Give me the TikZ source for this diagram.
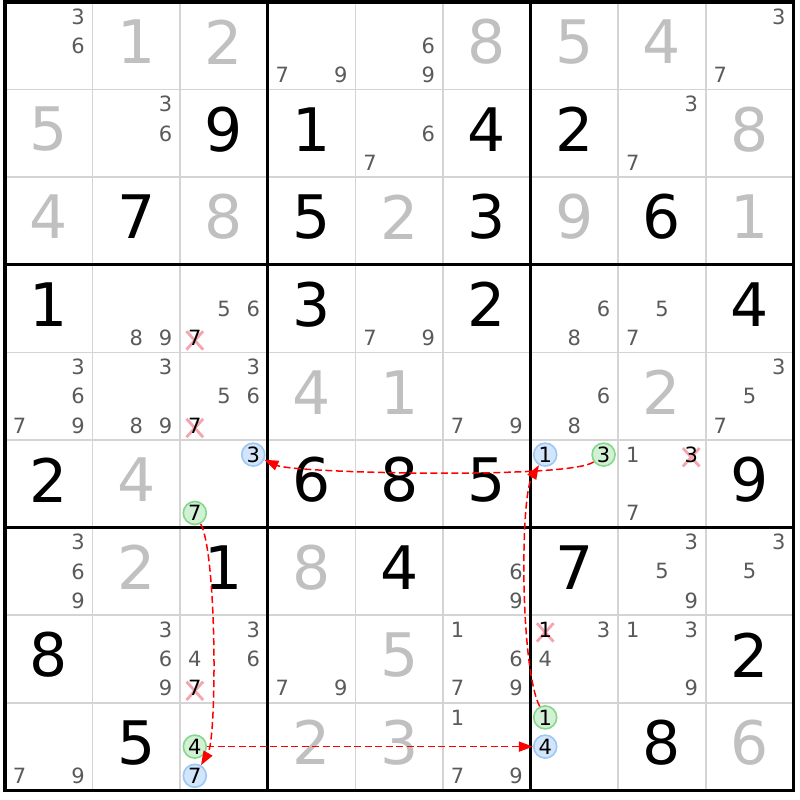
\documentclass[tikz,border=0pt]{standalone}
\usepackage{fontspec}
\setmainfont{DejaVu Sans}
\usetikzlibrary{arrows.meta}
\usetikzlibrary{backgrounds}

\definecolor{solvedgrey}{HTML}{C0C0C0}
\definecolor{pencilgrey}{HTML}{5A5A5A}
\definecolor{gridgrey}{HTML}{D4D4D4}
\definecolor{ringblue}{HTML}{9CC8F5}
\definecolor{fillblue}{HTML}{D2E5FB}
\definecolor{ringgreen}{HTML}{84D88C}
\definecolor{fillgreen}{HTML}{D2F0D4}
\definecolor{strikepink}{HTML}{F4A6AE}
\definecolor{chainred}{HTML}{FF0000}

\begin{document}
\begin{tikzpicture}[x=87.6pt,y=87.6pt,>={Triangle[length=14pt,width=10pt]},
  thinline/.style={gridgrey,line width=1.5pt},
  boxline/.style={black,line width=3.2pt},
  given/.style={inner sep=0pt,font=\fontsize{60pt}{60pt}\selectfont},
  solved/.style={given,text=solvedgrey},
  cand/.style={inner sep=0pt,text=pencilgrey,font=\fontsize{21pt}{21pt}\selectfont},
  killed/.style={cand,text=black},
  bluering/.style={killed,circle,draw=ringblue,fill=fillblue,line width=1.6pt,minimum size=23pt},
  greenring/.style={bluering,draw=ringgreen,fill=fillgreen},
  strike/.style={strikepink,line width=2.8pt},
  chainlink/.style={->,chainred,line width=1.5pt,dash pattern=on 7pt off 3.5pt}]

\useasboundingbox (-0.0571,0.0228) rectangle (9.0753,-9.1096);

\foreach \i in {1,2,4,5,7,8} {
  \draw[thinline] (\i,0) -- (\i,-9);
  \draw[thinline] (0,-\i) -- (9,-\i);
}
\foreach \i in {3,6} {
  \draw[boxline] (\i,0) -- (\i,-9);
  \draw[boxline] (0,-\i) -- (9,-\i);
}
\draw[boxline] (0,0) rectangle (9,-9);

% givens
\foreach \r/\c/\d in {2/3/9,2/4/1,2/6/4,2/7/2,3/2/7,3/4/5,3/6/3,3/8/6,
                      4/1/1,4/4/3,4/6/2,4/9/4,6/1/2,6/4/6,6/5/8,6/6/5,6/9/9,
                      7/3/1,7/5/4,7/7/7,8/1/8,8/9/2,9/2/5,9/8/8}
  \node[given] (v\r\c) at (\c-0.5,0.545-\r) {\d};

% solved
\foreach \r/\c/\d in {1/2/1,1/3/2,1/6/8,1/7/5,1/8/4,2/1/5,2/9/8,
                      3/1/4,3/3/8,3/5/2,3/7/9,3/9/1,5/4/4,5/5/1,5/8/2,
                      6/2/4,7/2/2,7/4/8,8/5/5,9/4/2,9/5/3,9/9/6}
  \node[solved] (v\r\c) at (\c-0.5,0.545-\r) {\d};

% candidates
\foreach \r/\c/\ks in {1/1/{3,6},1/4/{7,9},1/5/{6,9},1/9/{3,7},
                       2/2/{3,6},2/5/{6,7},2/8/{3,7},
                       4/2/{8,9},4/3/{5,6},4/5/{7,9},4/7/{6,8},4/8/{5,7},
                       5/1/{3,6,7,9},5/2/{3,8,9},5/3/{3,5,6},5/6/{7,9},5/7/{6,8},5/9/{3,5,7},
                       6/8/{1,7},
                       7/1/{3,6,9},7/6/{6,9},7/8/{3,5,9},7/9/{3,5},
                       8/2/{3,6,9},8/3/{3,4,6},8/4/{7,9},8/6/{1,6,7,9},8/7/{3,4},8/8/{1,3,9},
                       9/1/{7,9},9/6/{1,7,9}}
  \foreach \k in \ks {
    \pgfmathsetmacro\px{\c-1+(mod(\k-1,3)+0.5)/3}
    \pgfmathsetmacro\py{1-\r-(floor((\k-1)/3)+0.5)/3}
    \node[cand] (p\r\c\k) at (\px,\py) {\k};
  }

\foreach \r/\c/\k in {4/3/7,5/3/7,6/8/3,8/3/7,8/7/1} {
  \pgfmathsetmacro\px{\c-1+(mod(\k-1,3)+0.5)/3}
  \pgfmathsetmacro\py{1-\r-(floor((\k-1)/3)+0.5)/3}
  \node[killed] (p\r\c\k) at (\px,\py) {\k};
}

\begin{pgfonlayer}{background}
\fill[white] (-0.0571,0.0228) rectangle (9.0753,-9.1096);
\foreach \n in {p437,p537,p683,p837,p871}
  \draw[strike] (\n.center) ++(-0.095,-0.135) -- ++(0.19,0.21)
                (\n.center) ++(-0.095,0.075) -- ++(0.19,-0.21);
\end{pgfonlayer}

\node[bluering]  (r6c3b) at (2.8333,-5.1667) {3};
\node[greenring] (r6c3g) at (2.1667,-5.8333) {7};
\node[bluering]  (r6c7b) at (6.1667,-5.1667) {1};
\node[greenring] (r6c7g) at (6.8333,-5.1667) {3};
\node[greenring] (r9c3g) at (2.1667,-8.5) {4};
\node[bluering]  (r9c3b) at (2.1667,-8.8333) {7};
\node[greenring] (r9c7g) at (6.1667,-8.1667) {1};
\node[bluering]  (r9c7b) at (6.1667,-8.5) {4};

\draw[chainlink] (r6c7g) .. controls (6.45,-5.45) and (3.3,-5.38) .. (r6c3b);
\draw[chainlink] (r6c3g) .. controls (2.42,-6.3) and (2.42,-8.4) .. (r9c3b);
\draw[chainlink] (r9c3g) -- (r9c7b);
\draw[chainlink] (r9c7g) .. controls (5.88,-7.6) and (5.88,-5.65) .. (r6c7b);

\end{tikzpicture}
\end{document}
